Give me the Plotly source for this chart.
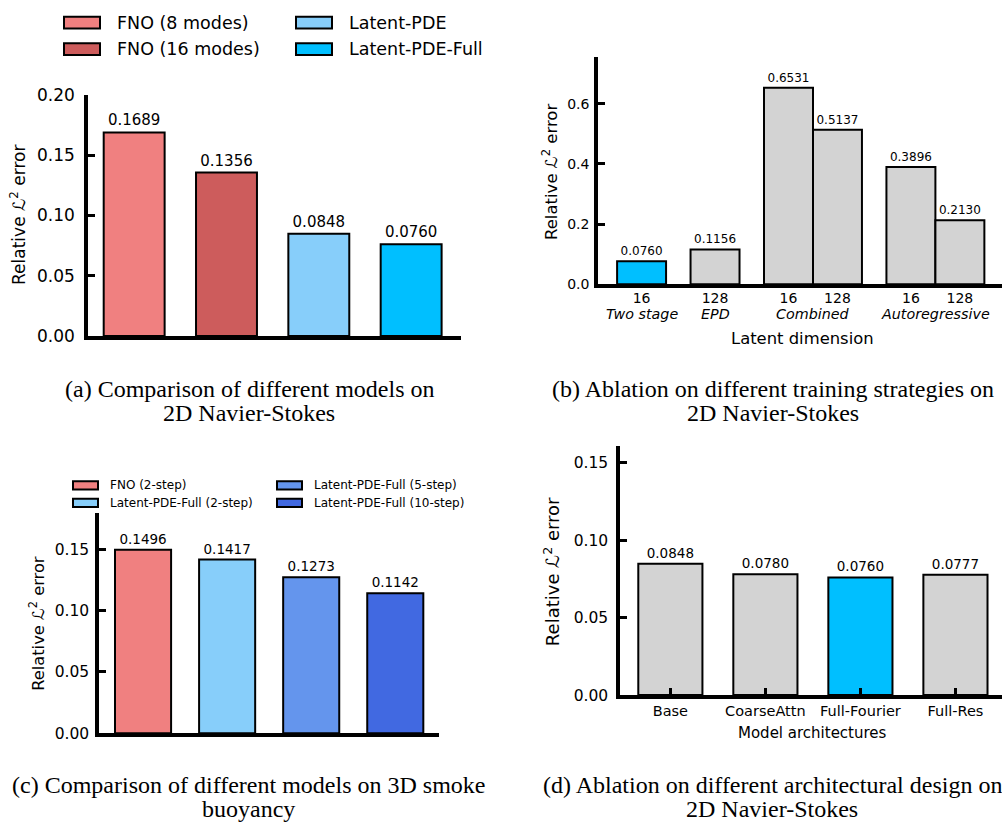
import plotly.graph_objects as go

W, H = 1002, 831

# ---------------- data ----------------
a_models = ["FNO (8 modes)", "FNO (16 modes)", "Latent-PDE", "Latent-PDE-Full"]
a_errors = [0.1689, 0.1356, 0.0848, 0.0760]

b_dims = ["16", "128", "16", "128", "16", "128"]
b_strategies = ["Two stage", "EPD", "Combined", "Combined", "Autoregressive", "Autoregressive"]
b_errors = [0.0760, 0.1156, 0.6531, 0.5137, 0.3896, 0.2130]

c_models = ["FNO (2-step)", "Latent-PDE-Full (2-step)", "Latent-PDE-Full (5-step)", "Latent-PDE-Full (10-step)"]
c_errors = [0.1496, 0.1417, 0.1273, 0.1142]

d_archs = ["Base", "CoarseAttn", "Full-Fourier", "Full-Res"]
d_errors = [0.0848, 0.0780, 0.0760, 0.0777]

# ---------------- styles ----------------
a_colors = ["#F08080", "#CD5C5C", "#87CEFA", "#00BFFF"]
b_colors = ["#00BFFF", "#D3D3D3", "#D3D3D3", "#D3D3D3", "#D3D3D3", "#D3D3D3"]
c_colors = ["#F08080", "#87CEFA", "#6495ED", "#4169E1"]
d_colors = ["#D3D3D3", "#D3D3D3", "#00BFFF", "#D3D3D3"]
b_slots = [0, 1.5, 3, 4, 5.5, 6.5]   # slot layout of the grouped bars

SANS = "DejaVu Sans"
SERIF = "Liberation Serif"
YT = "Relative ℒ<sup>2</sup> error"


def fx(px):
    return px / W


def fy(py):
    return 1 - py / H


fig = go.Figure()


def add_bars(x, y, colors, width, axis_suffix, fsize):
    fig.add_trace(go.Bar(
        x=x, y=y, width=width,
        marker=dict(color=colors, line=dict(color="black", width=2)),
        text=[f"{v:.4f}" for v in y], textposition="outside",
        textfont=dict(family=SANS, size=fsize, color="black"),
        constraintext="none", cliponaxis=False,
        xaxis="x" + axis_suffix, yaxis="y" + axis_suffix, showlegend=False,
        hoverinfo="x+y",
    ))


add_bars(list(range(len(a_errors))), a_errors, a_colors, 0.66, "", 15)
add_bars(b_slots, b_errors, b_colors, 1.0, "2", 12)
add_bars(list(range(len(c_errors))), c_errors, c_colors, 0.667, "3", 13.5)
add_bars(list(range(len(d_errors))), d_errors, d_colors, 0.675, "4", 13.5)


def yax(dom, rng, dtick, fmt, fsize, anchor, standoff):
    return dict(domain=dom, range=rng, anchor=anchor, showline=True, linewidth=3.5,
                linecolor="black", showgrid=False, zeroline=False, ticks="inside",
                ticklen=7, tickwidth=2.5, tickcolor="black", dtick=dtick, tick0=0,
                tickformat=fmt, tickfont=dict(family=SANS, size=fsize, color="black"),
                ticklabelstandoff=standoff)


def xax(dom, rng, anchor):
    return dict(domain=dom, range=rng, anchor=anchor, showline=True, linewidth=3.5,
                linecolor="black", showgrid=False, zeroline=False, ticks="",
                showticklabels=False)


layout = dict(
    width=W, height=H, margin=dict(l=0, r=0, t=0, b=0),
    paper_bgcolor="white", plot_bgcolor="white", showlegend=False,
    xaxis=xax([fx(88), fx(461)], [-0.5, 3.54], "y"),
    yaxis=yax([fy(334), fy(87)], [0, 0.2], 0.05, ".2f", 17, "x", 6),
    xaxis2=xax([fx(598), 1.0], [-0.89, 7.36], "y2"),
    yaxis2=yax([fy(281), fy(48)], [0, 0.756], 0.2, ".1f", 14, "x2", 2),
    xaxis3=xax([fx(99), fx(439)], [-0.524, 3.52], "y3"),
    yaxis3=yax([fy(741), fy(515)], [0, 0.180], 0.05, ".2f", 15.5, "x3", 3),
    xaxis4=xax([fx(620), 1.0], [-0.53, 3.49], "y4"),
    yaxis4=yax([fy(702), fy(447)], [0, 0.1607], 0.05, ".2f", 15.5, "x4", 5),
)
fig.update_layout(**layout)

# x tick labels for (b) and (d)
fig.update_layout(xaxis2=dict(showticklabels=True, tickmode="array", tickvals=b_slots,
                              ticktext=b_dims,
                              tickfont=dict(family=SANS, size=14, color="black"),
                              ticklabelstandoff=-2))
fig.update_layout(xaxis4=dict(showticklabels=True, tickmode="array",
                              tickvals=list(range(len(d_archs))), ticktext=d_archs,
                              ticks="inside", ticklen=7, tickwidth=2.5, tickcolor="black",
                              tickfont=dict(family=SANS, size=14.5, color="black"),
                              ticklabelstandoff=0))

ann = []
# y-axis titles
for x, y, s in [(18, 210, 17), (550, 166, 16.5), (37, 629, 16.3), (552, 576, 18)]:
    ann.append(dict(text=YT, x=fx(x), y=fy(y), xref="paper", yref="paper",
                    textangle=-90, showarrow=False, xanchor="center", yanchor="middle",
                    font=dict(family=SANS, size=s, color="black")))
# x-axis titles
ann.append(dict(text="Latent dimension", x=fx(802), y=fy(337), xref="paper", yref="paper",
                showarrow=False, xanchor="center", yanchor="middle",
                font=dict(family=SANS, size=16.4, color="black")))
ann.append(dict(text="Model architectures", x=fx(812), y=fy(741), xref="paper", yref="paper",
                showarrow=False, xanchor="center", yanchor="middle",
                font=dict(family=SANS, size=15, color="black")))
# group labels (b)
groups = []
for s, p in zip(b_strategies, b_slots):
    if groups and groups[-1][0] == s:
        groups[-1][1].append(p)
    else:
        groups.append([s, [p]])
for s, ps in groups:
    ann.append(dict(text=f"<i>{s}</i>", x=sum(ps) / len(ps), y=fy(312), xref="x2", yref="paper",
                    showarrow=False, xanchor="center", yanchor="middle",
                    font=dict(family=SANS, size=14.3, color="black")))
# captions
caps = [
    (249, 388, "(a) Comparison of different models on"), (249, 413, "2D Navier-Stokes"),
    (773, 388, "(b) Ablation on different training strategies on"), (773, 413, "2D Navier-Stokes"),
    (248, 794, "(c) Comparison of different models on 3D smoke"), (248, 819, "buoyancy"),
    (772, 794, "(d) Ablation on different architectural design on"), (772, 819, "2D Navier-Stokes"),
]
for x, y, t in caps:
    ann.append(dict(text=t, x=fx(x), y=fy(y), xref="paper", yref="paper", showarrow=False,
                    xanchor="center", yanchor="middle",
                    font=dict(family=SERIF, size=24, color="black")))

# legends (drawn as patches + labels)
shapes = []


def legend(items, colors, cols_x, rows_y, pw, ph, text_dx, fsize):
    n_rows = len(rows_y)
    for i, (lab, col) in enumerate(zip(items, colors)):
        cx = cols_x[i // n_rows]
        cy = rows_y[i % n_rows]
        shapes.append(dict(type="rect", xref="paper", yref="paper",
                           x0=fx(cx), x1=fx(cx + pw), y0=fy(cy + ph / 2), y1=fy(cy - ph / 2),
                           fillcolor=col, line=dict(color="black", width=2)))
        ann.append(dict(text=lab, x=fx(cx + text_dx), y=fy(cy), xref="paper", yref="paper",
                        showarrow=False, xanchor="left", yanchor="middle",
                        font=dict(family=SANS, size=fsize, color="black")))


legend(a_models, a_colors, [64, 296], [13, 40], 36, 12, 51, 17.5)
legend(c_models, c_colors, [73, 277], [487, 505], 25, 8.5, 35, 12)

fig.update_layout(annotations=ann, shapes=shapes)
fig.write_html("out.html", config={"displayModeBar": False},
               post_script="document.body.style.margin='0px';document.body.style.overflow='hidden';")
